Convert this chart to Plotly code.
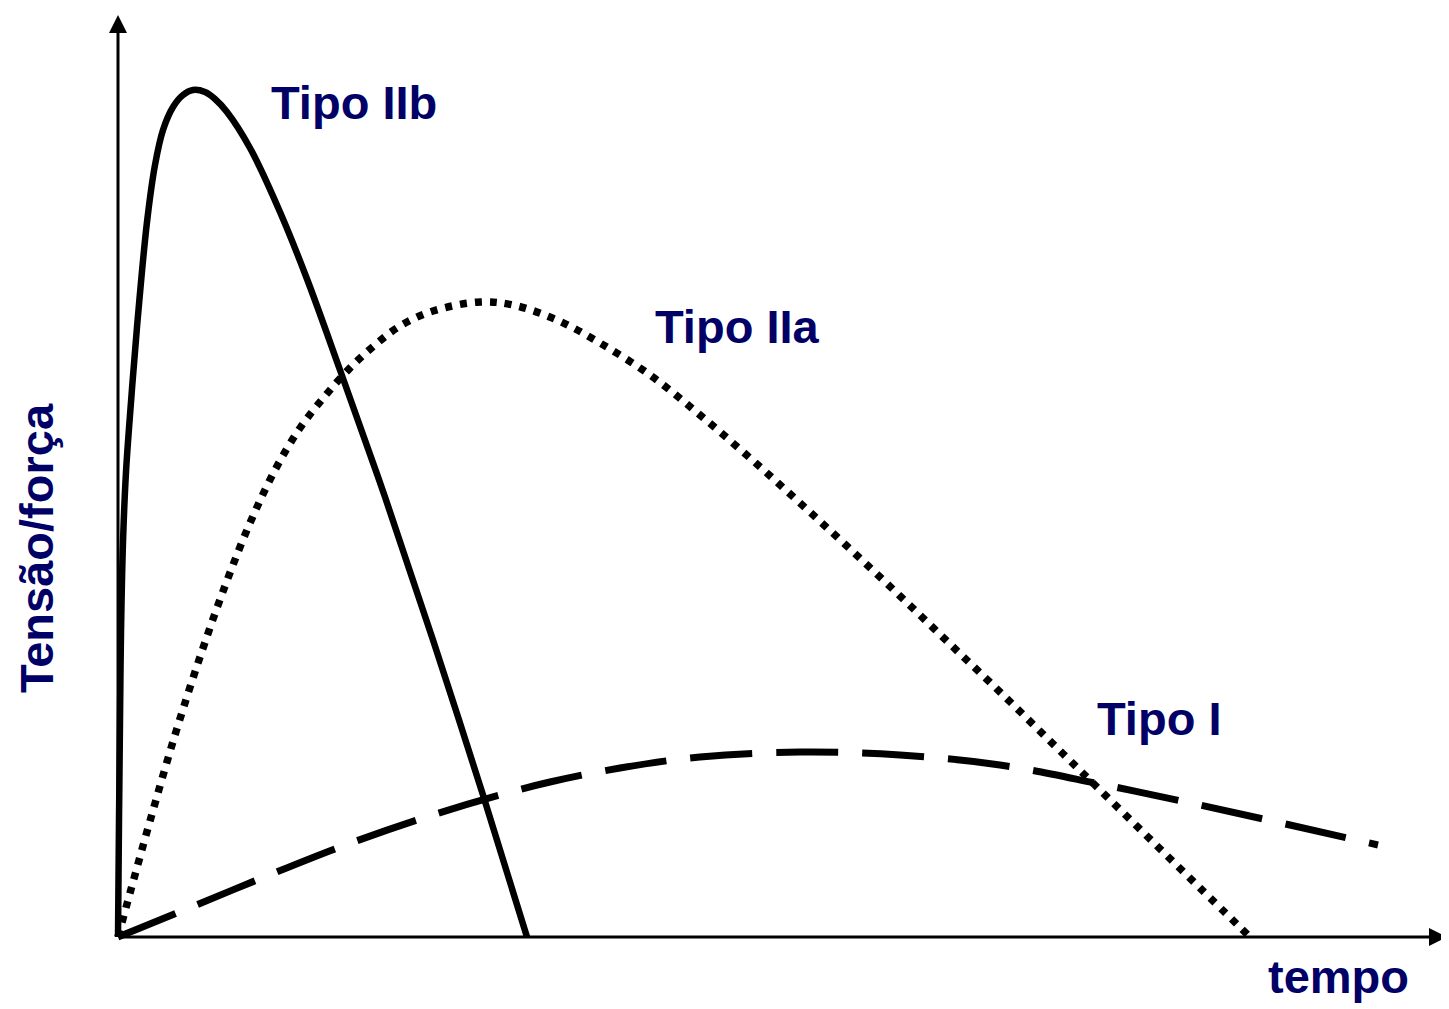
import plotly.graph_objects as go

# Tipo IIb - solid
iib_t = [0, 0.1, 0.2, 0.3, 0.5, 0.8, 1.3, 1.9, 2.9, 3.7, 4.5, 5.5, 6.5, 7.5, 8.7, 9.7, 10.9, 13.2, 16.2, 18.9, 22.2, 26.7, 31.5, 36.5, 40.9]
iib_f = [0, 11.7, 21.7, 30.4, 39.5, 46.5, 53.5, 61.0, 71.5, 77.2, 80.7, 83.0, 84.2, 84.7, 84.5, 83.8, 82.5, 78.9, 72.5, 65.8, 56.7, 44.0, 29.7, 14.2, 0]

# Tipo IIa - dotted
iia_t = [0, 1.2, 3.2, 5.7, 8.2, 10.7, 13.2, 15.7, 18.2, 20.7, 23.2, 25.7, 28.2, 31.5, 36.2, 39.5, 43.9, 48.2, 53.2, 58.2, 63.2, 68.2, 73.2, 78.2, 83.2, 88.2, 93.2, 98.2, 103.2, 108.2, 113.2]
iia_f = [0, 4.4, 11.6, 20.2, 28.0, 35.1, 41.4, 46.7, 50.9, 54.1, 56.9, 59.2, 61.1, 62.6, 63.5, 63.2, 61.7, 59.4, 56.2, 52.2, 47.9, 43.4, 38.8, 34.1, 29.3, 24.5, 19.6, 14.7, 9.8, 4.9, 0]

# Tipo I - dashed
i_t = [0, 5.9, 13.9, 22.2, 30.5, 38.9, 43.2, 50.2, 58.2, 68.2, 78.2, 88.2, 98.2, 108.2, 117.2, 126.0]
i_f = [0, 2.4, 5.7, 9.0, 11.9, 14.4, 15.5, 16.9, 18.0, 18.5, 18.2, 17.2, 15.3, 13.2, 11.2, 9.2]

labels = ["Tipo IIb", "Tipo IIa", "Tipo I"]
label_t = [23.6, 61.9, 104.1]
label_f = [83.5, 61.1, 21.9]

x_title = "tempo"
y_title = "Tensão/força"

x_range = [-11.0, 133.1]
y_range = [-7.2, 92.9]
x_axis_end = 132.9
y_axis_end = 92.2

navy = "#000066"
font_family = "Liberation Sans, Arial, sans-serif"
fsize = 47

fig = go.Figure()
fig.add_trace(go.Scatter(x=i_t, y=i_f, mode="lines", line=dict(color="black", width=7, dash="62px,24px", shape="spline", smoothing=1.0), hoverinfo="skip"))
fig.add_trace(go.Scatter(x=iia_t, y=iia_f, mode="lines", line=dict(color="black", width=7.5, dash="7px,8px", shape="spline", smoothing=1.0), hoverinfo="skip"))
fig.add_trace(go.Scatter(x=iib_t, y=iib_f, mode="lines", line=dict(color="black", width=6.5, shape="spline", smoothing=1.0), hoverinfo="skip"))

# axes with arrowheads
fig.add_annotation(x=x_axis_end, y=0, ax=0, ay=0, xref="x", yref="y", axref="x", ayref="y",
                   text="", showarrow=True, arrowhead=2, arrowwidth=3, arrowsize=1.2, arrowcolor="black")
fig.add_annotation(x=0, y=y_axis_end, ax=0, ay=0, xref="x", yref="y", axref="x", ayref="y",
                   text="", showarrow=True, arrowhead=2, arrowwidth=3, arrowsize=1.2, arrowcolor="black")

for txt, tx, ty in zip(labels, label_t, label_f):
    fig.add_annotation(x=tx, y=ty, xref="x", yref="y", text=txt, showarrow=False,
                       font=dict(family=font_family, size=fsize, color=navy, weight="bold"),
                       xanchor="center", yanchor="middle")

fig.add_annotation(x=122.0, y=-3.95, xref="x", yref="y", text=x_title, showarrow=False,
                   font=dict(family=font_family, size=fsize, color=navy, weight="bold"),
                   xanchor="center", yanchor="middle")
fig.add_annotation(x=-8.2, y=38.9, xref="x", yref="y", text=y_title, showarrow=False, textangle=-90,
                   font=dict(family=font_family, size=fsize, color=navy, weight="bold"),
                   xanchor="center", yanchor="middle")

fig.update_layout(
    width=1441, height=1001, autosize=False,
    margin=dict(l=0, r=0, t=0, b=0, pad=0),
    paper_bgcolor="white", plot_bgcolor="white",
    showlegend=False,
    xaxis=dict(range=x_range, visible=False, showgrid=False, zeroline=False, fixedrange=True),
    yaxis=dict(range=y_range, visible=False, showgrid=False, zeroline=False, fixedrange=True),
)

fig.write_html("out.html")
